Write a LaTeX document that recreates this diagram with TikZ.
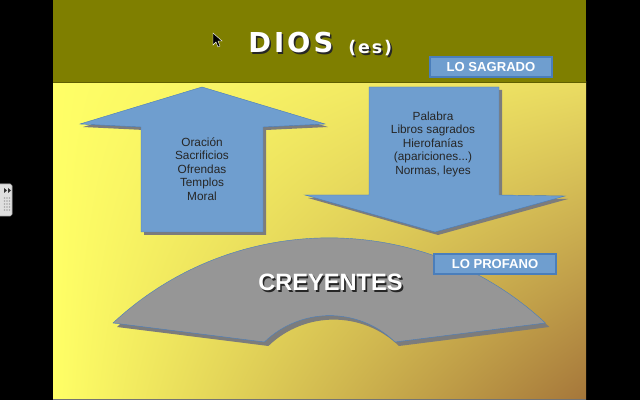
\documentclass[tikz,border=0pt]{standalone}
\usepackage{fontspec}
\setmainfont{Liberation Sans}
\newfontfamily\spacedfont[LetterSpace=11]{DejaVu Sans}
\usetikzlibrary{calc,shadings}
\definecolor{bandolive}{HTML}{7F7F00}
\definecolor{bgyellow}{HTML}{FFFF66}
\definecolor{bgright}{HTML}{EADC62}
\definecolor{bgbrown}{HTML}{A5763A}
\definecolor{arrowblue}{HTML}{6F9ECF}
\definecolor{edgeblue}{HTML}{4A7EBB}
\definecolor{bandgray}{HTML}{969696}
\definecolor{shadowgray}{HTML}{7C7C7C}
\tikzset{
  arrowshape/.style={
    fill=arrowblue,
    draw=edgeblue,
    line width=0.3pt
  },
  bandshape/.style={
    fill=bandgray,
    draw=edgeblue,
    line width=0.3pt
  },
  shadowshape/.style={
    fill=shadowgray
  },
  armtext/.style={
    align=center,
    text=black!85,
    font=\fontsize{8.4}{9.6}\selectfont
  },
  tag/.style={
    fill=arrowblue,
    draw=edgeblue,
    line width=0.8pt,
    minimum width=3.05cm,
    minimum height=0.5cm,
    inner sep=0pt,
    text=white,
    font=\bfseries\fontsize{9.3}{10}\selectfont
  },
  bigtitle/.style={
    anchor=base west,
    inner sep=0pt
  }
}
\begin{document}
\begin{tikzpicture}[x=0.025cm,y=-0.025cm]
    \useasboundingbox (0,0) rectangle (640,400);
    \fill[black] (0,0) rectangle (640,400);
    % slide background
    \shade[upper left=bgyellow, upper right=bgright, lower left=bgyellow, lower right=bgbrown]
        (53,82) rectangle (586,400);
    \fill[bandolive] (53,0) rectangle (586,82);
    \draw[bandolive!75!black, line width=0.5pt] (53,82) -- (586,82);
    \draw[black!55, line width=0.6pt] (53,399.6) -- (586,399.6);
    % arrows and the band, shadow first
    \foreach \d/\s in {3/shadowshape, 0/arrowshape}{
        \path[\s, shift={(\d,\d)}] (202,87) -- (325,124) -- (263,127) -- (263,232)
            -- (141,232) -- (141,127) -- (80,124) -- cycle;
        \path[\s, shift={(\d,\d)}] (369,87) -- (499,87) -- (499,195) -- (565,196)
            -- (435,232) -- (305,195) -- (369,195) -- cycle;
    }
    \foreach \d/\s in {4/shadowshape, 0/bandshape}{
        \path[\s, shift={(\d,\d)}] (113,323) arc[start angle=-133, end angle=-47, radius=317]
            -- (395,342) arc[start angle=-46, end angle=-134, radius=94] -- cycle;
    }
    \node[armtext] (ofrendas) at (202,169) {Oración\\Sacrificios\\Ofrendas\\Templos\\Moral};
    \node[armtext] (revelacion) at (433,144) {Palabra\\Libros sagrados\\Hierofanías\\(apariciones...)\\Normas, leyes};
    % titles with dark shadow
    \foreach \d/\c in {1.6/black!85, 0/white}{
        \node[bigtitle, text=\c] (dios) at ($(248,53)+(\d,\d)$)
            {\spacedfont\bfseries\fontsize{19.5}{24}\selectfont DIOS};
        \node[bigtitle, text=\c] (es) at ($(348,54)+(\d,\d)$)
            {\spacedfont\bfseries\fontsize{12.4}{16}\selectfont (es)};
        \node[bigtitle, text=\c] (creyentes) at ($(258,291)+(\d,\d)$)
            {\bfseries\fontsize{16.8}{20}\selectfont CREYENTES};
    }
    \node[tag] (sagrado) at (491,67) {LO SAGRADO};
    \node[tag] (profano) at (495,264) {LO PROFANO};
    % mouse pointer
    \filldraw[fill=black, draw=white!70, line width=0.3pt] (213,33) -- (213,45) -- (216,42)
        -- (218,47) -- (220,46) -- (218,41) -- (222,41) -- cycle;
    % player handle on the left edge
    \filldraw[fill=gray!25, draw=gray!60, rounded corners=1.2] (-4,184) rectangle (12,216);
    \foreach \x in {4,8}{
        \fill[black!80] (\x,188) -- (\x+3,190.5) -- (\x,193) -- cycle;
    }
    \foreach \x in {4.5,7,9.5}{
        \foreach \y in {198,201,204,207,210}{
            \fill[gray!70] (\x,\y) circle (0.8);
        }
    }
\end{tikzpicture}
\end{document}
